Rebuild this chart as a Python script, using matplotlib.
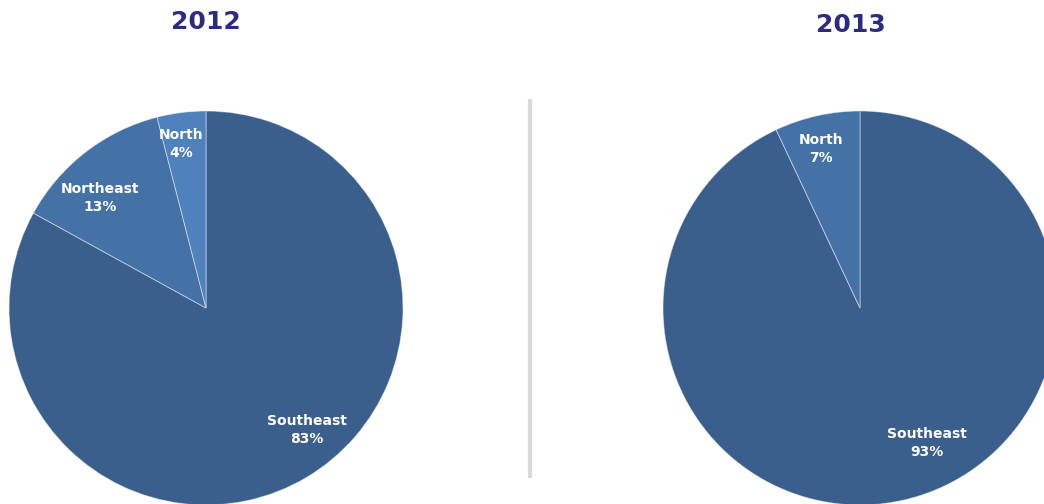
import matplotlib.pyplot as plt

# regional share of volume, per year
regions_2012 = ['Southeast', 'Northeast', 'North']
share_2012 = [83, 13, 4]
colors_2012 = ['#3b5f8d', '#4471a6', '#4f81bd']

regions_2013 = ['Southeast', 'North']
share_2013 = [93, 7]
colors_2013 = ['#3b5f8d', '#4471a6']

W, H = 1044, 504
fig = plt.figure(figsize=(W / 100, H / 100), dpi=100)
ax = fig.add_axes([0, 0, 1, 1])

R = 197
wedge_kw = dict(edgecolor=(1, 1, 1, 0.45), linewidth=0.7)

ax.pie(share_2012, colors=colors_2012, startangle=90, counterclock=False,
       center=(206, H - 308), radius=R, wedgeprops=wedge_kw)
ax.pie(share_2013, colors=colors_2013, startangle=90, counterclock=False,
       center=(860, H - 308), radius=R, wedgeprops=wedge_kw)

ax.set_xlim(0, W)
ax.set_ylim(0, H)
ax.set_aspect('equal')
ax.axis('off')

lbl = dict(color='white', fontsize=10, fontweight='bold', ha='center',
           va='center', linespacing=1.35)
pos_2012 = {'Southeast': (307, 430), 'Northeast': (100, 198), 'North': (181, 144)}
pos_2013 = {'Southeast': (927, 443), 'North': (821, 149)}
for name, v in zip(regions_2012, share_2012):
    x, y = pos_2012[name]
    ax.text(x, H - y, f'{name}\n{v}%', **lbl)
for name, v in zip(regions_2013, share_2013):
    x, y = pos_2013[name]
    ax.text(x, H - y, f'{name}\n{v}%', **lbl)

title = dict(color='#2b2b7f', fontsize=18, fontweight='bold', ha='center', va='center')
ax.text(206, H - 22, '2012', **title)
ax.text(851, H - 25, '2013', **title)

# divider between the two pies
ax.plot([530, 530], [H - 99, H - 478], color='#d9d9d9', linewidth=3,
        solid_capstyle='butt')

fig.savefig('out.png', dpi=100)
